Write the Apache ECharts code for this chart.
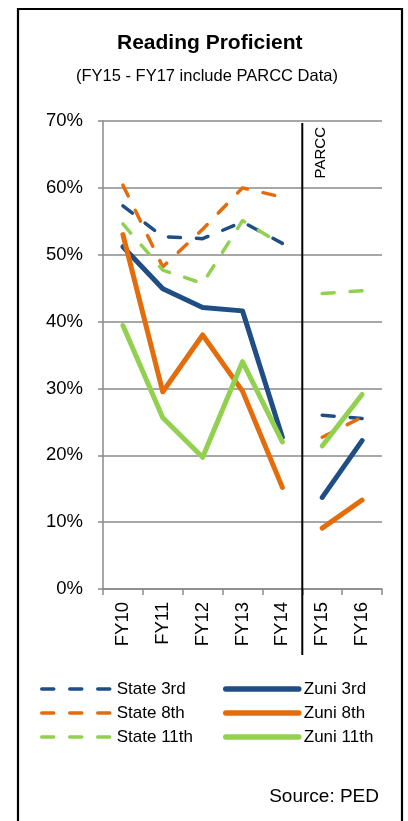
<!DOCTYPE html>
<html>
<head>
<meta charset="utf-8">
<script src="https://cdn.jsdelivr.net/npm/echarts@6/dist/echarts.min.js"></script>
<style>
html,body{margin:0;padding:0;background:#fff;}
#c{width:408px;height:821px;}
</style>
</head>
<body>
<div id="c"></div>
<script>
const categories = ['FY10','FY11','FY12','FY13','FY14','FY15','FY16'];
const yTicks = [0,10,20,30,40,50,60,70];
// values in percent; pre-PARCC (FY10-FY14) and PARCC (FY15-FY16)
const state3rd  = [57.3, 52.7, 52.4, 54.9, 51.7, 26.0, 25.5];
const state8th  = [60.4, 48.2, 53.8, 60.0, 58.6, 22.7, 25.7];
const state11th = [54.6, 47.7, 45.7, 55.1, 51.5, 44.2, 44.6];
const zuni3rd   = [51.2, 44.9, 42.1, 41.6, 22.7, 13.7, 22.2];
const zuni8th   = [53.0, 29.5, 38.0, 29.6, 15.2,  9.1, 13.3];
const zuni11th  = [39.4, 25.6, 19.7, 34.0, 22.0, 21.4, 29.1];
const breakIndex = 5; // PARCC starts at FY15

const NAVY = '#1F4E85', ORANGE = '#E46C0A', GREEN = '#92D050';
const FONT = 'Liberation Sans';

function split(arr) {
  const a = arr.map((v, i) => i < breakIndex ? v : '-');
  const b = arr.map((v, i) => i >= breakIndex ? v : '-');
  return [a, b];
}
const defs = [
  {name: 'State 3rd', data: state3rd, color: NAVY, dashed: true},
  {name: 'State 8th', data: state8th, color: ORANGE, dashed: true},
  {name: 'State 11th', data: state11th, color: GREEN, dashed: true},
  {name: 'Zuni 3rd', data: zuni3rd, color: NAVY, dashed: false},
  {name: 'Zuni 8th', data: zuni8th, color: ORANGE, dashed: false},
  {name: 'Zuni 11th', data: zuni11th, color: GREEN, dashed: false}
];
const DASH = [12, 16];
const series = [];
defs.forEach(d => {
  split(d.data).forEach(part => {
    series.push({
      name: d.name, type: 'line', data: part, symbol: 'none', silent: true,
      connectNulls: false, z: d.dashed ? 2 : 3,
      color: d.color,
      lineStyle: {color: d.color, width: d.dashed ? 3.5 : 5, type: d.dashed ? DASH : 'solid', cap: 'round', join: 'round'}
    });
  });
});

function legendItem(d) {
  return {
    name: d.name,
    itemStyle: {color: 'rgba(0,0,0,0)', borderWidth: 0, opacity: 0},
    lineStyle: {color: d.color, width: d.dashed ? 3.5 : 5.5, type: d.dashed ? DASH : 'solid', cap: 'round'}
  };
}
const legendText = {fontFamily: FONT, fontSize: 17, color: '#000', lineHeight: 20};

const chart = echarts.init(document.getElementById('c'), null, {renderer: 'canvas'});
const option = {
  animation: false,
  backgroundColor: '#fff',
  title: [
    {text: 'Reading Proficient', left: 117, top: 33, padding: 0,
     textStyle: {fontFamily: FONT, fontSize: 21, fontWeight: 'bold', color: '#000'}},
    {text: '(FY15 - FY17 include PARCC Data)', left: 76, top: 68, padding: 0,
     textStyle: {fontFamily: FONT, fontSize: 16.5, fontWeight: 'normal', color: '#000'}}
  ],
  legend: [
    {data: defs.filter(d => d.dashed).map(legendItem), orient: 'vertical', left: 40, top: 679, padding: 0,
     itemWidth: 70, itemHeight: 12, itemGap: 4, selectedMode: false, textStyle: legendText},
    {data: defs.filter(d => !d.dashed).map(legendItem), orient: 'vertical', left: 223, top: 679, padding: 0,
     itemWidth: 73, itemHeight: 12, itemGap: 4, selectedMode: false, textStyle: legendText}
  ],
  grid: {left: 103, right: 26, top: 121, bottom: 232, containLabel: false},
  xAxis: {
    type: 'category', data: categories, boundaryGap: true,
    axisLine: {lineStyle: {color: '#8a8a8a', width: 1.5}},
    axisTick: {show: true, length: 6, alignWithLabel: false, lineStyle: {color: '#8a8a8a', width: 1.5}},
    axisLabel: {rotate: 90, margin: 13, fontFamily: FONT, fontSize: 18.5, color: '#000', interval: 0},
    splitLine: {show: false}
  },
  yAxis: {
    type: 'value', min: 0, max: 70, interval: 10,
    axisLine: {show: true, lineStyle: {color: '#8a8a8a', width: 1.5}},
    axisTick: {show: true, length: 5, lineStyle: {color: '#8a8a8a', width: 1.5}},
    axisLabel: {formatter: v => yTicks.includes(v) ? v + '%' : '', margin: 20, fontFamily: FONT, fontSize: 18.5, color: '#000'},
    splitLine: {show: true, lineStyle: {color: '#8a8a8a', width: 1.5}}
  },
  series: series
};
chart.setOption(option);

// annotations positioned via axis conversion
const pA = chart.convertToPixel({gridIndex: 0}, [breakIndex - 1, 70]);
const pB = chart.convertToPixel({gridIndex: 0}, [breakIndex, 0]);
const xBreak = (pA[0] + pB[0]) / 2;
chart.setOption({
  graphic: [
    {type: 'rect', shape: {x: 18, y: 9, width: 384, height: 830}, style: {fill: 'none', stroke: '#000', lineWidth: 2.2}, silent: true},
    {type: 'line', shape: {x1: xBreak, y1: pA[1] + 2, x2: xBreak, y2: pB[1] + 66}, style: {stroke: '#000', lineWidth: 2}, z: 10, silent: true},
    {type: 'text', x: xBreak + 19, y: pA[1] + 6, rotation: Math.PI / 2,
     style: {text: 'PARCC', fontFamily: FONT, fontSize: 15, fill: '#000', align: 'right', verticalAlign: 'middle'}, z: 10, silent: true},
    {type: 'text', right: 29, top: 787,
     style: {text: 'Source: PED', fontFamily: FONT, fontSize: 19, fill: '#000'}, silent: true}
  ]
});
</script>
</body>
</html>
